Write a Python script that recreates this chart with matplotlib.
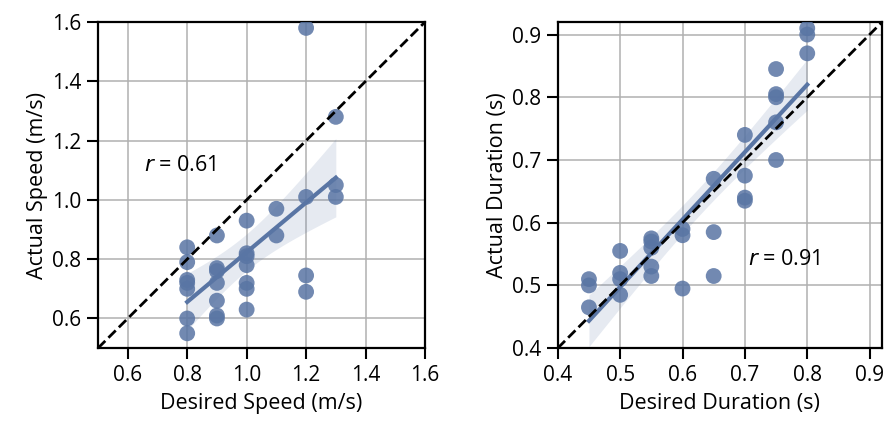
import numpy as np
import matplotlib.pyplot as plt

# ------------ data ------------------------------------------------------
speed_desired = [0.8] * 7 + [0.9] * 7 + [1.0] * 7 + [1.1] * 2 + [1.2] * 4 + [1.3] * 3
speed_actual = [0.84, 0.79, 0.73, 0.72, 0.70, 0.60, 0.55,
                0.88, 0.77, 0.76, 0.72, 0.66, 0.61, 0.60,
                0.93, 0.82, 0.81, 0.78, 0.72, 0.70, 0.63,
                0.97, 0.88,
                1.58, 1.01, 0.745, 0.69,
                1.28, 1.05, 1.01]

dur_desired = [0.45] * 3 + [0.5] * 4 + [0.55] * 5 + [0.6] * 3 + [0.65] * 3 + [0.7] * 4 + [0.75] * 5 + [0.8] * 3
dur_actual = [0.51, 0.50, 0.465,
              0.555, 0.52, 0.51, 0.485,
              0.575, 0.57, 0.56, 0.53, 0.515,
              0.59, 0.58, 0.495,
              0.67, 0.585, 0.515,
              0.74, 0.675, 0.64, 0.635,
              0.845, 0.805, 0.80, 0.76, 0.70,
              0.91, 0.90, 0.87]

r_labels = ["0.61", "0.91"]

color = "#5975a4"
plt.rcParams["font.family"] = ["Open Sans", "DejaVu Sans"]


def fit_with_ci(x, y, xs):
    # least squares line plus 95% confidence band
    x = np.asarray(x); y = np.asarray(y)
    n = len(x)
    b, a = np.polyfit(x, y, 1)
    yhat = a + b * xs
    resid = y - (a + b * x)
    s = np.sqrt(np.sum(resid ** 2) / (n - 2))
    se = s * np.sqrt(1.0 / n + (xs - x.mean()) ** 2 / np.sum((x - x.mean()) ** 2))
    return yhat, 2.05 * se


def panel(ax, x, y, lims, ticks, xlabel, ylabel, rtxt, rpos):
    ax.grid(True, color="#b0b0b0", lw=1.1, zorder=0)
    ax.scatter(x, y, s=130, color=color, alpha=0.85, edgecolor="none", zorder=3)
    xs = np.linspace(min(x), max(x), 100)
    yhat, ci = fit_with_ci(x, y, xs)
    ax.fill_between(xs, yhat - ci, yhat + ci, color=color, alpha=0.15, lw=0, zorder=2)
    ax.plot(xs, yhat, color=color, lw=3, zorder=4)
    ax.plot(lims, lims, "k--", lw=2, zorder=5)
    ax.set_xlim(lims)
    ax.set_ylim(lims)
    ax.set_xticks(ticks)
    ax.set_yticks(ticks)
    ax.set_xticklabels([f"{t:.1f}" for t in ticks])
    ax.set_yticklabels([f"{t:.1f}" for t in ticks])
    ax.set_xlabel(xlabel, fontsize=15.5, labelpad=5)
    ax.set_ylabel(ylabel, fontsize=15.5, labelpad=3)
    ax.tick_params(labelsize=15, length=8, width=1.5, color="black", pad=4)
    for sp in ax.spines.values():
        sp.set_linewidth(1.6)
        sp.set_color("black")
    ax.text(rpos[0], rpos[1], "$r$ = " + rtxt, fontsize=15.5, va="center", zorder=6)


fig = plt.figure(figsize=(8.91, 4.23), dpi=100)
ax1 = fig.add_axes([0.110, 0.177, 0.367, 0.771])
ax2 = fig.add_axes([0.626, 0.177, 0.364, 0.771])

panel(ax1, speed_desired, speed_actual, (0.5, 1.6), np.arange(0.6, 1.61, 0.2),
      "Desired Speed (m/s)", "Actual Speed (m/s)", r_labels[0], (0.655, 1.115))
panel(ax2, dur_desired, dur_actual, (0.4, 0.92), np.arange(0.4, 0.91, 0.1),
      "Desired Duration (s)", "Actual Duration (s)", r_labels[1], (0.705, 0.541))

fig.savefig("out.png", dpi=100)
